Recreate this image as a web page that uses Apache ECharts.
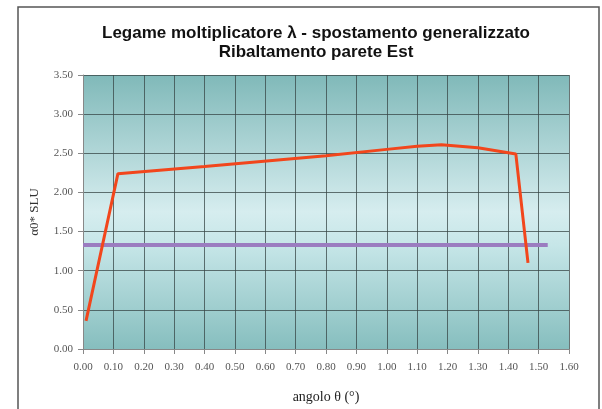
<!DOCTYPE html>
<html>
<head>
<meta charset="utf-8">
<script src="https://cdn.jsdelivr.net/npm/echarts@6/dist/echarts.min.js"></script>
<style>
  html, body { margin: 0; padding: 0; background: #fff; }
  #chart { width: 602px; height: 409px; }
</style>
</head>
<body>
<div id="chart"></div>
<script>
// curve lambda - theta
var angolo = [0.01, 0.115, 0.40, 0.80, 1.00, 1.10, 1.18, 1.30, 1.425, 1.465];
var lambda = [0.36, 2.24, 2.33, 2.47, 2.55, 2.59, 2.61, 2.57, 2.49, 1.10];

// horizontal line alpha0* SLU
var sluX = [0.0, 1.53];
var sluY = [1.33, 1.33];

var xTicks = [0, 0.1, 0.2, 0.3, 0.4, 0.5, 0.6, 0.7, 0.8, 0.9, 1.0, 1.1, 1.2, 1.3, 1.4, 1.5, 1.6];
var yTicks = [0, 0.5, 1.0, 1.5, 2.0, 2.5, 3.0, 3.5];

function pairs(xs, ys) {
    var out = [];
    for (var i = 0; i < xs.length; i++) out.push([xs[i], ys[i]]);
    return out;
}

var chart = echarts.init(document.getElementById('chart'));

chart.setOption({
    animation: false,
    backgroundColor: '#fff',
    title: {
        text: 'Legame moltiplicatore λ - spostamento generalizzato\nRibaltamento parete Est',
        left: 311,
        textAlign: 'center',
        top: 19,
        textStyle: {
            fontFamily: 'Liberation Sans',
            fontWeight: 'bold',
            fontSize: 17,
            lineHeight: 19,
            color: '#111'
        }
    },
    graphic: [{
        type: 'rect',
        shape: { x: 18, y: 7, width: 581, height: 420 },
        style: { fill: 'none', stroke: '#555', lineWidth: 1.5 },
        silent: true
    }],
    grid: {
        left: 83, right: 33, top: 75, bottom: 60,
        show: true,
        borderWidth: 0,
        backgroundColor: new echarts.graphic.LinearGradient(0, 0, 0, 1, [
            { offset: 0, color: '#80b9b9' },
            { offset: 0.5, color: '#d6edef' },
            { offset: 0.62, color: '#c6e6e8' },
            { offset: 1, color: '#86bebe' }
        ])
    },
    xAxis: {
        type: 'value',
        min: xTicks[0],
        max: xTicks[xTicks.length - 1],
        interval: 0.1,
        name: 'angolo θ (°)',
        nameLocation: 'middle',
        nameGap: 41,
        nameTextStyle: { fontFamily: 'Liberation Serif', fontSize: 14, color: '#222' },
        axisLine: { lineStyle: { color: '#888' } },
        axisTick: { show: true, length: 5, lineStyle: { color: '#888' } },
        axisLabel: {
            margin: 13,
            fontFamily: 'Liberation Serif',
            fontSize: 11,
            color: '#555',
            formatter: function (v) { return v.toFixed(2); }
        },
        splitLine: { show: true, lineStyle: { color: 'rgba(55,70,70,0.75)', width: 1 } }
    },
    yAxis: {
        type: 'value',
        min: yTicks[0],
        max: yTicks[yTicks.length - 1],
        interval: 0.5,
        name: 'α0* SLU',
        nameLocation: 'middle',
        nameRotate: 90,
        nameGap: 42,
        nameTextStyle: { fontFamily: 'Liberation Serif', fontSize: 13, color: '#333' },
        axisLine: { show: true, lineStyle: { color: '#888' } },
        axisTick: { show: true, length: 5, lineStyle: { color: '#888' } },
        axisLabel: {
            margin: 10,
            fontFamily: 'Liberation Serif',
            fontSize: 11,
            color: '#555',
            formatter: function (v) { return v.toFixed(2); }
        },
        splitLine: { show: true, lineStyle: { color: 'rgba(55,70,70,0.75)', width: 1 } }
    },
    series: [{
        name: 'α0* SLU',
        type: 'line',
        data: pairs(sluX, sluY),
        showSymbol: false,
        lineStyle: { color: '#9b7cc0', width: 4 },
        z: 3
    }, {
        name: 'λ',
        type: 'line',
        data: pairs(angolo, lambda),
        showSymbol: false,
        lineStyle: { color: '#f2461c', width: 3 },
        z: 4
    }]
});
</script>
</body>
</html>
